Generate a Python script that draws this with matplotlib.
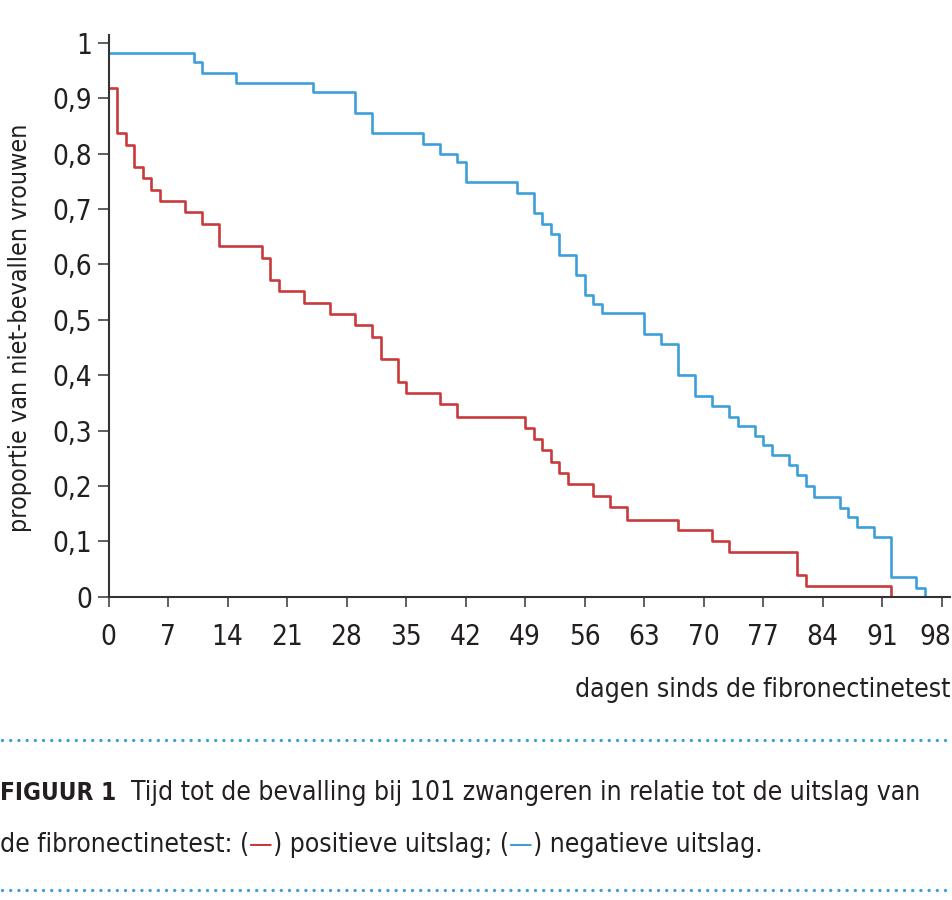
import matplotlib
matplotlib.use('Agg')
import matplotlib.pyplot as plt
from matplotlib.lines import Line2D
from matplotlib.transforms import ScaledTranslation

pos_dagen = [0, 1, 2, 3, 4, 5, 6, 9, 11, 13, 18, 19, 20, 23, 26, 29, 31, 32, 34, 35,
             39, 41, 49, 50, 51, 52, 53, 54, 57, 59, 61, 67, 71, 73, 81, 82, 92]
pos_prop = [0.918, 0.837, 0.816, 0.776, 0.755, 0.735, 0.714, 0.694, 0.673, 0.633,
            0.612, 0.571, 0.551, 0.531, 0.510, 0.490, 0.469, 0.429, 0.388, 0.367,
            0.347, 0.325, 0.305, 0.285, 0.264, 0.244, 0.224, 0.203, 0.182, 0.162,
            0.139, 0.120, 0.100, 0.080, 0.040, 0.020, 0.0]

neg_dagen = [0, 10, 11, 15, 24, 29, 31, 37, 39, 41, 42, 48, 50, 51, 52, 53, 55, 56, 57,
             58, 63, 65, 67, 69, 71, 73, 74, 76, 77, 78, 80, 81, 82, 83, 86, 87, 88,
             90, 92, 95, 96]
neg_prop = [0.982, 0.965, 0.946, 0.928, 0.911, 0.873, 0.837, 0.818, 0.800, 0.784,
            0.748, 0.729, 0.692, 0.673, 0.655, 0.617, 0.581, 0.545, 0.528, 0.513,
            0.474, 0.457, 0.400, 0.363, 0.345, 0.325, 0.308, 0.290, 0.273, 0.256,
            0.237, 0.219, 0.199, 0.180, 0.161, 0.144, 0.125, 0.108, 0.036, 0.016, 0.0]

x_ticks = [0, 7, 14, 21, 28, 35, 42, 49, 56, 63, 70, 77, 84, 91, 98]
y_ticks = [0, 0.1, 0.2, 0.3, 0.4, 0.5, 0.6, 0.7, 0.8, 0.9, 1]
y_labels = ['0', '0,1', '0,2', '0,3', '0,4', '0,5', '0,6', '0,7', '0,8', '0,9', '1']

ROOD = '#c93a3c'
BLAUW = '#3d9fda'
TEKST = '#231f20'

# DejaVu Sans Condensed
plt.rcParams['font.family'] = ['DejaVu Sans']
plt.rcParams['font.stretch'] = 'condensed'

fig = plt.figure(figsize=(9.53, 9), dpi=100)
ax = fig.add_axes([0.1139, 0.337, 0.883, 0.6241])

ax.step(pos_dagen, pos_prop, where='post', color=ROOD, lw=1.9)
ax.step(neg_dagen, neg_prop, where='post', color=BLAUW, lw=1.9)

ax.set_xlim(0, 99)
ax.set_ylim(0, 1.014)
ax.set_xticks(x_ticks)
ax.set_yticks(y_ticks)
ax.set_yticklabels(y_labels)

for kant in ['top', 'right']:
    ax.spines[kant].set_visible(False)
for kant in ['left', 'bottom']:
    ax.spines[kant].set_color('#333333')
    ax.spines[kant].set_linewidth(1.5)

ax.tick_params(axis='y', direction='out', length=8, width=1.2, color='#444444',
               labelsize=20, pad=4, labelcolor=TEKST)
ax.tick_params(axis='x', direction='out', length=7, width=1.2, color='#444444',
               labelsize=20, pad=12, labelcolor=TEKST)

# laatste label iets naar links, zoals in het origineel
laatste = ax.get_xticklabels()[-1]
laatste.set_transform(laatste.get_transform() + ScaledTranslation(-6 / 100, 0, fig.dpi_scale_trans))

fig.text(0.021, 0.6356, 'proportie van niet-bevallen vrouwen', rotation=90,
         ha='center', va='center', fontsize=18, color=TEKST)
fig.text(0.997, 0.233, 'dagen sinds de fibronectinetest', ha='right', va='center',
         fontsize=19, color=TEKST)

# gestippelde scheidingslijnen
for y in [1 - 740 / 900, 1 - 890 / 900]:
    fig.add_artist(Line2D([0.002, 0.998], [y, y], transform=fig.transFigure,
                          color=BLAUW, lw=2.4, ls=(0, (0.01, 2.45)),
                          dash_capstyle='round'))

renderer = fig.canvas.get_renderer()


def regel(stukken, y):
    x = 0.0
    for tekst, kleur, gewicht, grootte in stukken:
        t = fig.text(x, y, tekst, color=kleur, fontweight=gewicht, fontsize=grootte,
                     va='baseline', ha='left')
        bb = t.get_window_extent(renderer=renderer)
        x = fig.transFigure.inverted().transform((bb.x1, bb.y0))[0]


regel([('FIGUUR 1', TEKST, 'bold', 17.5),
       ('  Tijd tot de bevalling bij 101 zwangeren in relatie tot de uitslag van', TEKST, 'normal', 19)],
      1 - 800 / 900)
regel([('de fibronectinetest: (', TEKST, 'normal', 19),
       ('\u2014', ROOD, 'normal', 19),
       (') positieve uitslag; (', TEKST, 'normal', 19),
       ('\u2014', BLAUW, 'normal', 19),
       (') negatieve uitslag.', TEKST, 'normal', 19)],
      1 - 852 / 900)

fig.savefig('out.png', dpi=100)
